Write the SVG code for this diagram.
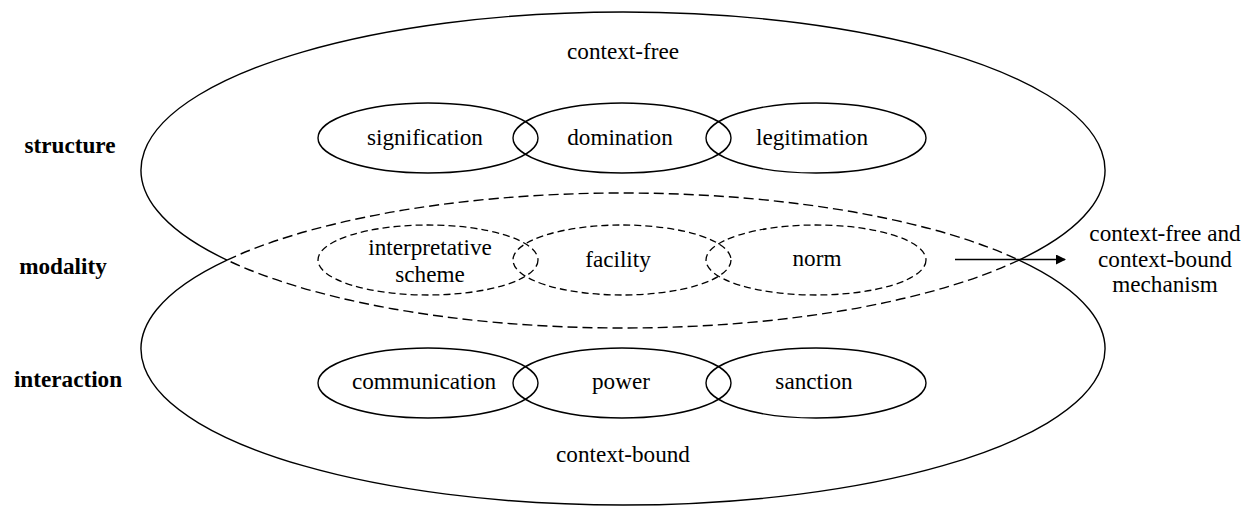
<svg xmlns="http://www.w3.org/2000/svg" width="1246" height="506" viewBox="0 0 1246 506">
<style>
.line{fill:none;stroke:#000;stroke-width:1.4}
.dash{fill:none;stroke:#000;stroke-width:1.4;stroke-dasharray:10,5}
.sdash{fill:none;stroke:#000;stroke-width:1.3;stroke-dasharray:7,4}
.t{font-family:"Liberation Serif","Times New Roman",serif;font-size:23.2px;fill:#000;text-anchor:middle}
.b{font-weight:bold}
</style>
<defs>
<marker id="arr" markerWidth="10" markerHeight="10" refX="9" refY="5" orient="auto" markerUnits="userSpaceOnUse">
<path d="M0,0 L10,5 L0,10 Z" fill="#000"/>
</marker>
</defs>
<rect width="1246" height="506" fill="#fff"/>
<g id="context-free-region">
<path class="line" d="M227,260.07 A482,158 0 1 1 1019,260.07"/>
<path class="dash" d="M1019,260.07 A482,158 0 0 1 227,260.07"/>
<text class="t" x="623" y="59">context-free</text>
</g>
<g id="context-bound-region">
<path class="line" d="M1019,260.07 A482,156 0 1 1 227,260.07"/>
<path class="dash" d="M227,260.07 A482,156 0 0 1 1019,260.07"/>
<text class="t" x="623" y="462">context-bound</text>
</g>
<g id="label-structure"><text class="t b" x="70" y="153">structure</text></g>
<g id="label-modality"><text class="t b" x="63" y="274">modality</text></g>
<g id="label-interaction"><text class="t b" x="68" y="387">interaction</text></g>
<g id="signification"><ellipse class="line" cx="428" cy="138" rx="110" ry="35"/><text class="t" x="425" y="145">signification</text></g>
<g id="domination"><ellipse class="line" cx="622" cy="138" rx="109" ry="35"/><text class="t" x="620" y="145">domination</text></g>
<g id="legitimation"><ellipse class="line" cx="816" cy="138" rx="110" ry="35"/><text class="t" x="812" y="145">legitimation</text></g>
<g id="interpretative-scheme"><ellipse class="sdash" cx="428" cy="260" rx="110" ry="35"/><text class="t" x="430" y="255">interpretative</text><text class="t" x="430" y="282">scheme</text></g>
<g id="facility"><ellipse class="sdash" cx="622" cy="260" rx="109" ry="35"/><text class="t" x="618" y="267">facility</text></g>
<g id="norm"><ellipse class="sdash" cx="816" cy="260" rx="110" ry="35"/><text class="t" x="817" y="266">norm</text></g>
<g id="communication"><ellipse class="line" cx="428" cy="383" rx="110" ry="35"/><text class="t" x="424" y="389">communication</text></g>
<g id="power"><ellipse class="line" cx="622" cy="383" rx="109" ry="35"/><text class="t" x="621" y="389">power</text></g>
<g id="sanction"><ellipse class="line" cx="816" cy="383" rx="110" ry="35"/><text class="t" x="814" y="389">sanction</text></g>
<g id="mechanism"><text class="t" x="1165" y="241">context-free and</text><text class="t" x="1165" y="267">context-bound</text><text class="t" x="1165" y="292">mechanism</text></g>
<g id="connectors">
<line class="line" x1="955" y1="259.5" x2="1065" y2="259.5" marker-end="url(#arr)"/>
</g>
</svg>
